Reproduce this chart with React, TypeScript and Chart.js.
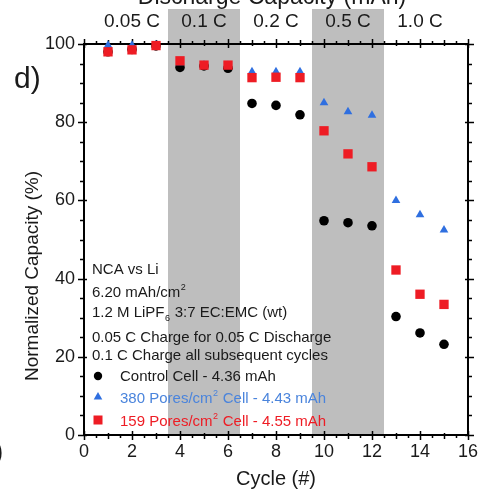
import React, { useEffect, useRef } from 'react';
import { Chart, registerables } from 'chart.js';

Chart.register(...registerables);

const FONT = "'Liberation Sans', Arial, Helvetica, sans-serif";

// ---- data ----
const cycles = [1, 2, 3, 4, 5, 6, 7, 8, 9, 10, 11, 12, 13, 14, 15];
const controlCell = [98.0, 98.6, 99.5, 94.0, 94.4, 93.8, 84.8, 84.3, 81.9, 54.8, 54.3, 53.5, 30.3, 26.1, 23.2];
const pores380Cell = [99.7, 99.7, 99.8, 95.2, 94.6, 94.5, 92.9, 92.9, 92.9, 85.0, 82.7, 81.8, 60.0, 56.3, 52.4];
const pores159Cell = [98.0, 98.5, 99.6, 95.7, 94.6, 94.6, 91.4, 91.5, 91.4, 77.8, 71.9, 68.6, 42.2, 36.0, 33.4];

const rateLabels = ['0.05 C', '0.1 C', '0.2 C', '0.5 C', '1.0 C'];
const rateStart = [0.5, 3.5, 6.5, 9.5, 12.5];
const rateEnd = [3.5, 6.5, 9.5, 12.5, 15.5];
const rateShaded = [false, true, false, true, false];

const noteLines = [
  'NCA vs Li',
  '6.20 mAh/cm|2',
  '1.2 M LiPF_6 3:7 EC:EMC (wt)',
  '0.05 C Charge for 0.05 C Discharge',
  '0.1 C Charge all subsequent cycles',
];
const seriesLabels = ['Control Cell - 4.36 mAh', '380 Pores/cm|2 Cell - 4.43 mAh', '159 Pores/cm|2 Cell - 4.55 mAh'];

const BLACK = '#000000';
const BLUE = '#2f6fe0';
const BLUE_TEXT = '#4a84dc';
const RED = '#ee1c24';
const TEXT = '#1a1a1a';

// draw text with |sup and _sub markers
function drawRich(ctx: CanvasRenderingContext2D, s: string, x: number, y: number, size: number, color: string) {
  ctx.fillStyle = color;
  ctx.textBaseline = 'middle';
  ctx.textAlign = 'left';
  let cx = x;
  const re = /([|_])(\S)/g;
  let last = 0;
  let m: RegExpExecArray | null;
  const pieces: { t: string; k: string }[] = [];
  while ((m = re.exec(s)) !== null) {
    pieces.push({ t: s.slice(last, m.index), k: 'n' });
    pieces.push({ t: m[2], k: m[1] === '|' ? 'sup' : 'sub' });
    last = m.index + m[0].length;
  }
  pieces.push({ t: s.slice(last), k: 'n' });
  for (const p of pieces) {
    if (!p.t) continue;
    if (p.k === 'n') {
      ctx.font = `${size}px ${FONT}`;
      ctx.fillText(p.t, cx, y);
      cx += ctx.measureText(p.t).width;
    } else {
      const ss = Math.round(size * 0.62);
      ctx.font = `${ss}px ${FONT}`;
      ctx.fillText(p.t, cx + 0.5, p.k === 'sup' ? y - size * 0.38 : y + size * 0.38);
      cx += ctx.measureText(p.t).width + 1;
    }
  }
}

const decorPlugin = {
  id: 'decor',
  beforeDatasetsDraw(chart: any) {
    const { ctx, chartArea: ca, scales } = chart;
    const x = scales.x;
    const y = scales.y;
    ctx.save();
    // rate bands
    ctx.fillStyle = '#bebebe';
    for (let i = 0; i < rateLabels.length; i++) {
      if (!rateShaded[i]) continue;
      const x0 = x.getPixelForValue(rateStart[i]);
      const x1 = x.getPixelForValue(rateEnd[i]);
      ctx.fillRect(x0, 9, x1 - x0, ca.bottom - 9);
    }
    // band labels
    ctx.fillStyle = TEXT;
    ctx.font = `19px ${FONT}`;
    ctx.textAlign = 'center';
    ctx.textBaseline = 'middle';
    for (let i = 0; i < rateLabels.length; i++) {
      const xc = x.getPixelForValue((rateStart[i] + rateEnd[i]) / 2);
      ctx.fillText(rateLabels[i], xc, 22);
    }
    // partially visible top title
    ctx.font = `23px ${FONT}`;
    ctx.textBaseline = 'alphabetic';
    ctx.fillText('Discharge Capacity (mAh)', 272, 4);

    // frame
    ctx.strokeStyle = '#000';
    ctx.lineWidth = 2;
    ctx.strokeRect(ca.left, ca.top, ca.right - ca.left, ca.bottom - ca.top);

    // tick marks
    ctx.lineWidth = 1.5;
    ctx.beginPath();
    for (let v = 0; v <= 16.001; v += 0.5) {
      const px = Math.round(x.getPixelForValue(v)) + 0.5;
      let out = 3, inn = 0;
      if (Math.abs(v % 2) < 1e-6) { out = 5; inn = 4; }
      else if (Math.abs(v % 1) < 1e-6) { out = 4; inn = 2; }
      ctx.moveTo(px, ca.bottom - inn); ctx.lineTo(px, ca.bottom + out);
      ctx.moveTo(px, ca.top + inn); ctx.lineTo(px, ca.top - out);
    }
    for (let v = 0; v <= 100.001; v += 5) {
      const py = Math.round(y.getPixelForValue(v)) + 0.5;
      let out = 4, inn = 0;
      if (Math.abs(v % 20) < 1e-6) { out = 6; inn = 3; }
      ctx.moveTo(ca.left - out, py); ctx.lineTo(ca.left + inn, py);
      ctx.moveTo(ca.right + out, py); ctx.lineTo(ca.right - inn, py);
    }
    ctx.stroke();

    // axis titles
    ctx.fillStyle = TEXT;
    ctx.font = `20px ${FONT}`;
    ctx.textAlign = 'center';
    ctx.textBaseline = 'middle';
    ctx.fillText('Cycle (#)', (ca.left + ca.right) / 2, 479);
    ctx.save();
    ctx.translate(33, 276);
    ctx.rotate(-Math.PI / 2);
    ctx.font = `19px ${FONT}`;
    ctx.fillText('Normalized Capacity (%)', 0, 0);
    ctx.restore();

    // panel label
    ctx.font = `30px ${FONT}`;
    ctx.textAlign = 'left';
    ctx.fillText('d)', 14, 80);
    ctx.font = `28px ${FONT}`;
    ctx.fillText(')', -6, 452);
    ctx.restore();
  },
  afterDatasetsDraw(chart: any) {
    const { ctx } = chart;
    ctx.save();
    const noteY = [270, 293, 313, 338, 356];
    noteLines.forEach((s, i) => drawRich(ctx, s, 92, noteY[i], 15, TEXT));
    const legY = [377, 399, 422];
    const legColors = [TEXT, BLUE_TEXT, RED];
    seriesLabels.forEach((s, i) => drawRich(ctx, s, 120, legY[i], 15, legColors[i]));
    // legend markers
    ctx.fillStyle = BLACK;
    ctx.beginPath();
    ctx.arc(98, 376, 4.2, 0, Math.PI * 2);
    ctx.fill();
    ctx.fillStyle = BLUE;
    ctx.beginPath();
    ctx.moveTo(98, 392);
    ctx.lineTo(102.3, 399.5);
    ctx.lineTo(93.7, 399.5);
    ctx.closePath();
    ctx.fill();
    ctx.fillStyle = RED;
    ctx.fillRect(93.5, 415.5, 9, 9);
    ctx.restore();
  },
};

export default function App() {
  const ref = useRef<HTMLCanvasElement | null>(null);
  useEffect(() => {
    if (!ref.current) return;
    const mk = (data: number[]) => cycles.map((c, i) => ({ x: c, y: data[i] }));
    const chart = new Chart(ref.current, {
      type: 'scatter',
      data: {
        datasets: [
          {
            label: 'Control Cell - 4.36 mAh',
            data: mk(controlCell),
            pointStyle: 'circle',
            pointRadius: 4.8,
            backgroundColor: BLACK,
            borderWidth: 0,
            order: 3,
            clip: false,
          },
          {
            label: '380 Pores/cm2 Cell - 4.43 mAh',
            data: mk(pores380Cell),
            pointStyle: 'triangle',
            pointRadius: 5,
            backgroundColor: BLUE,
            borderWidth: 0,
            order: 2,
            clip: false,
          },
          {
            label: '159 Pores/cm2 Cell - 4.55 mAh',
            data: mk(pores159Cell),
            pointStyle: 'rect',
            pointRadius: 6.6,
            backgroundColor: RED,
            borderWidth: 0,
            order: 1,
            clip: false,
          },
        ],
      },
      options: {
        animation: false,
        responsive: false,
        devicePixelRatio: 1,
        events: [],
        layout: { padding: { top: 44, right: 11, left: 0, bottom: 0 } },
        plugins: {
          legend: { display: false },
          tooltip: { enabled: false },
          title: { display: false },
        },
        scales: {
          x: {
            type: 'linear',
            min: 0,
            max: 16,
            position: 'bottom',
            afterFit: (s: any) => { s.height = 56; },
            grid: { display: false, drawTicks: false },
            border: { display: false },
            ticks: { stepSize: 2, color: TEXT, padding: 6, maxRotation: 0, font: { size: 18, family: FONT } },
          },
          y: {
            type: 'linear',
            min: 0,
            max: 100,
            afterFit: (s: any) => { s.width = 84; },
            grid: { display: false, drawTicks: false },
            border: { display: false },
            ticks: { stepSize: 20, color: TEXT, padding: 9, font: { size: 18, family: FONT } },
          },
        },
      } as any,
      plugins: [decorPlugin],
    });
    return () => chart.destroy();
  }, []);
  return (
    <div style={{ position: 'absolute', left: 0, top: 0, width: 484, height: 491, background: '#fff' }}>
      <canvas ref={ref} width={484} height={491} style={{ display: 'block' }} />
    </div>
  );
}
